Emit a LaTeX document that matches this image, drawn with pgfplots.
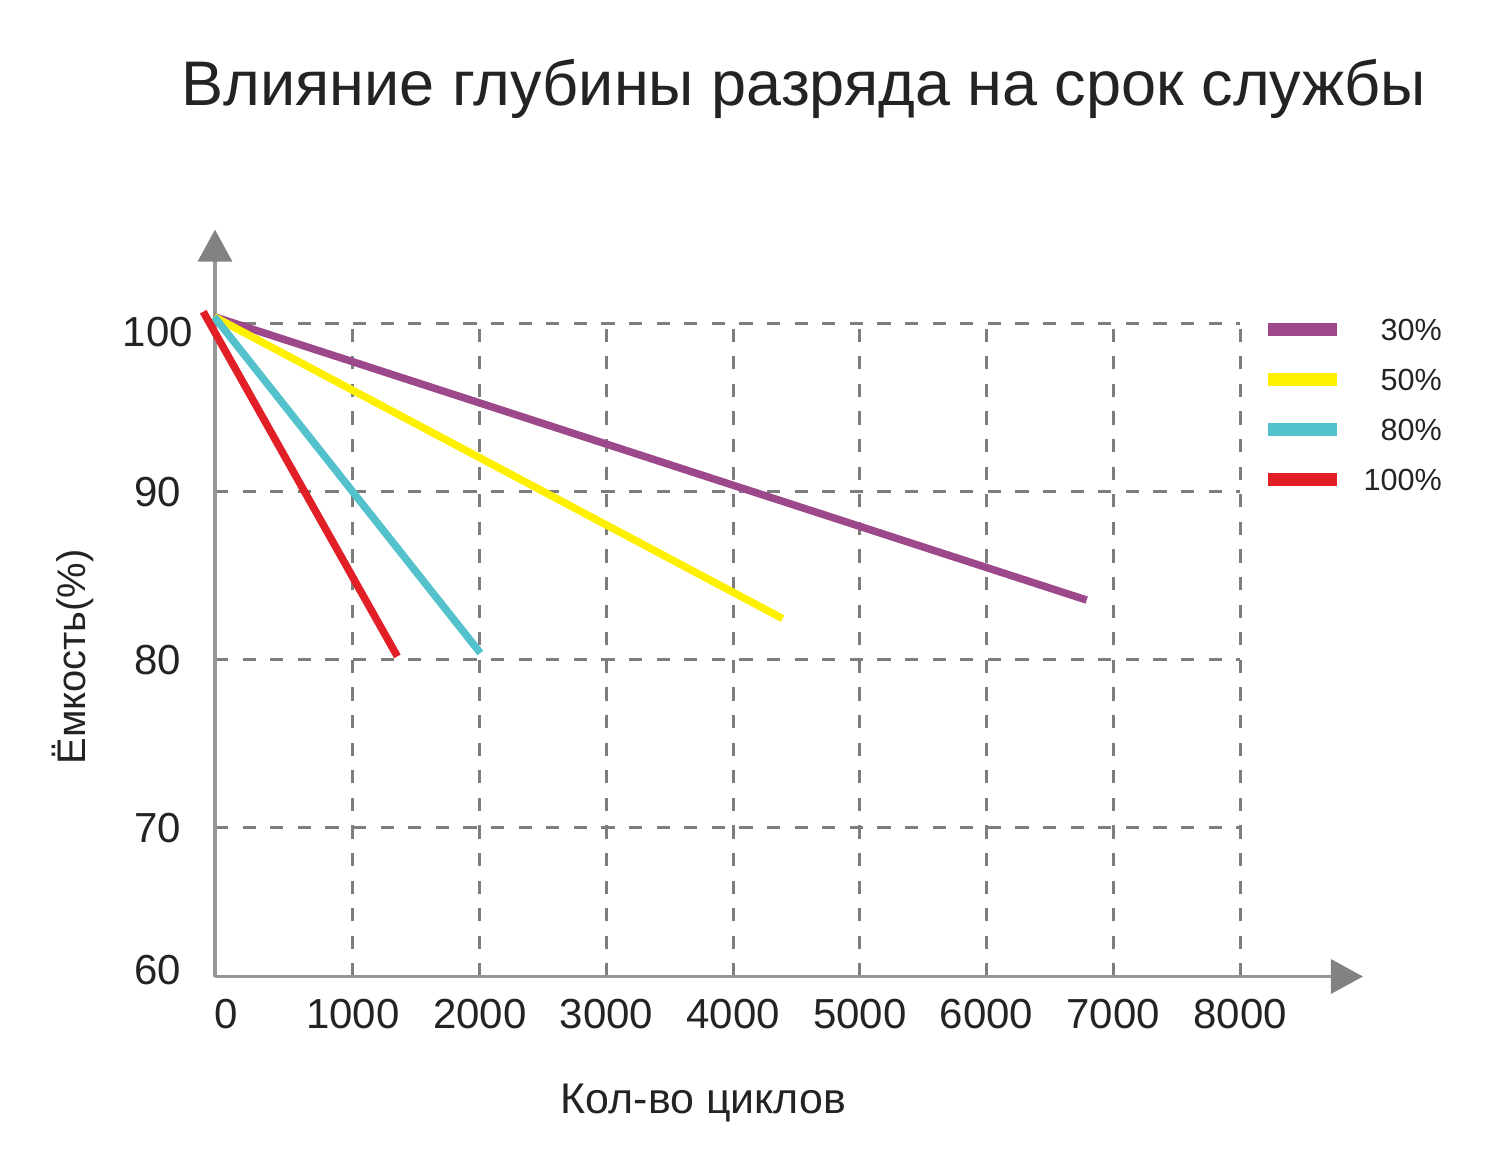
\documentclass[border=0pt]{standalone}
\usepackage{fontspec}
\setmainfont{Liberation Sans}
\usepackage{pgfplots}
\pgfplotsset{compat=1.18}
\usetikzlibrary{arrows.meta}

\definecolor{c30}{RGB}{158,72,140}
\definecolor{c50}{RGB}{255,240,0}
\definecolor{c80}{RGB}{84,194,204}
\definecolor{c100}{RGB}{226,30,38}
\definecolor{gridc}{RGB}{125,125,125}
\definecolor{axisc}{RGB}{150,150,150}
\definecolor{arrc}{RGB}{130,130,130}
\definecolor{txt}{RGB}{35,35,38}

\begin{document}
\begin{tikzpicture}
\useasboundingbox (-71.667pt,-60.167pt) rectangle (428.333pt,325.5pt);
\begin{axis}[
  at={(0pt,0pt)}, anchor=south west,
  scale only axis, width=341.67pt, height=217.67pt,
  xmin=-89, xmax=8000, ymin=61.16, ymax=100,
  clip=false,
  axis lines=left,
  axis line style={draw=axisc, line width=1.3pt, -{Triangle[length=10.7pt,width=11.3pt,color=arrc]}},
  x axis line style={shorten >=-41pt},
  y axis line style={shorten >=-31.3pt},
  xtick={1000,2000,3000,4000,5000,6000,7000,8000},
  xticklabels={1000,2000,3000,4000,5000,6000,7000,8000},
  extra x ticks={0}, extra x tick labels={0},
  extra x tick style={grid=none},
  ytick={61.16,70,80,90,100},
  yticklabels={\raisebox{2.2pt}[\height][\depth]{60},70,80,90,\raisebox{-3pt}[\height][\depth]{100}},
  major tick length=0pt,
  grid=major,
  major grid style={draw=gridc, line width=1pt, dash pattern=on 4.4pt off 4.8pt},
  /pgf/number format/assume math mode=true,
  tick label style={font=\fontsize{14}{14}\selectfont, text=txt},
  xticklabel style={anchor=base, yshift=-17.2pt},
  yticklabel style={anchor=center, xshift=-19pt},
  title={Влияние глубины разряда на срок службы},
  title style={at={(axis description cs:0.5746,1.306)}, anchor=base, font=\fontsize{21}{21}\selectfont, text=txt, inner sep=0pt},
  xlabel={Кол-во циклов},
  xlabel style={at={(axis description cs:0.4766,-0.209)}, anchor=base, font=\fontsize{14.3}{14.3}\selectfont, text=txt, inner sep=0pt},
  ylabel={Ёмкость(\%)},
  ylabel style={at={(axis description cs:-0.1259,0.4893)}, anchor=base, font=\fontsize{13.3}{13.3}\selectfont, text=txt, inner sep=0pt},
  legend cell align=right,
  legend style={draw=none, fill=none, at={(axis description cs:1.0205,1.0084)}, anchor=north west,
    font=\fontsize{10.2}{10.2}\selectfont, text=txt, inner sep=0pt, row sep=9.37pt, column sep=6.7pt,
    nodes={inner sep=0pt, text height=7.3pt, text depth=0pt}},
  legend image code/.code={\draw[line width=4.3pt,#1] (0pt,0pt) -- (23pt,0pt);},
]
\addplot[c30, line width=2.5pt] coordinates {(-95,100.4) (6790,83.55)};
\addlegendentry{30\%}
\addplot[c50, line width=2.5pt] coordinates {(-95,100.4) (4390,82.45)};
\addlegendentry{50\%}
\addplot[c80, line width=2.5pt] coordinates {(-95,100.4) (2005,80.4)};
\addlegendentry{80\%}
\addplot[c100, line width=2.5pt] coordinates {(-182,100.7) (1350,80.2)};
\addlegendentry{100\%}
\end{axis}
\end{tikzpicture}
\end{document}
